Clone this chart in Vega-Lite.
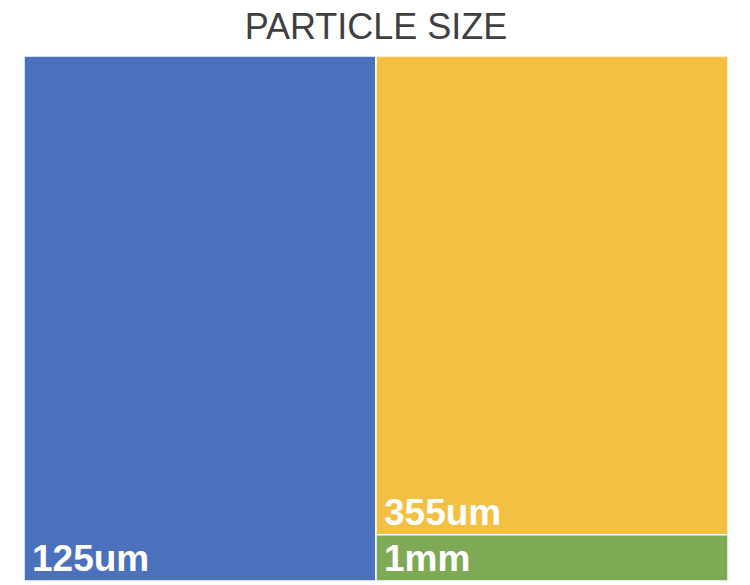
{
  "$schema": "https://vega.github.io/schema/vega-lite/v6.json",
  "width": 704,
  "height": 525,
  "autosize": "none",
  "padding": {"left": 24, "top": 56, "right": 22, "bottom": 4},
  "background": "#ffffff",
  "config": {"view": {"stroke": null}},
  "title": {
    "text": "PARTICLE SIZE",
    "font": "Liberation Sans",
    "fontSize": 36,
    "fontWeight": "normal",
    "color": "#404040",
    "anchor": "middle",
    "frame": "group",
    "baseline": "alphabetic",
    "offset": -20
  },
  "data": {
    "values": [
      {"label": "125um", "value": 50, "group": "A", "order": 1},
      {"label": "355um", "value": 45.6, "group": "B", "order": 2},
      {"label": "1mm", "value": 4.4, "group": "B", "order": 1}
    ]
  },
  "transform": [
    {"stack": "value", "groupby": [], "sort": [{"field": "group"}, {"field": "order"}], "as": ["s0", "s1"], "offset": "normalize"},
    {"joinaggregate": [{"op": "min", "field": "s0", "as": "cx0"}, {"op": "max", "field": "s1", "as": "cx1"}], "groupby": ["group"]},
    {"stack": "value", "groupby": ["group"], "sort": [{"field": "order"}], "as": ["r0", "r1"], "offset": "normalize"}
  ],
  "layer": [
    {
      "mark": {"type": "rect", "stroke": "#ffffff", "strokeWidth": 1.5},
      "encoding": {
        "x": {"field": "cx0", "type": "quantitative", "scale": {"domain": [0, 1], "nice": false, "zero": false}, "axis": null},
        "x2": {"field": "cx1"},
        "y": {"field": "r0", "type": "quantitative", "scale": {"domain": [0, 1], "nice": false, "zero": false}, "axis": null},
        "y2": {"field": "r1"},
        "color": {
          "field": "label",
          "type": "nominal",
          "scale": {"domain": ["125um", "355um", "1mm"], "range": ["#4B71BD", "#F4C042", "#7EA955"]},
          "legend": null
        }
      }
    },
    {
      "mark": {"type": "text", "align": "left", "baseline": "alphabetic", "dx": 8, "dy": -10, "font": "Liberation Sans", "fontWeight": "bold", "fontSize": 37, "color": "#ffffff"},
      "encoding": {
        "x": {"field": "cx0", "type": "quantitative"},
        "y": {"field": "r0", "type": "quantitative"},
        "text": {"field": "label"}
      }
    }
  ]
}
